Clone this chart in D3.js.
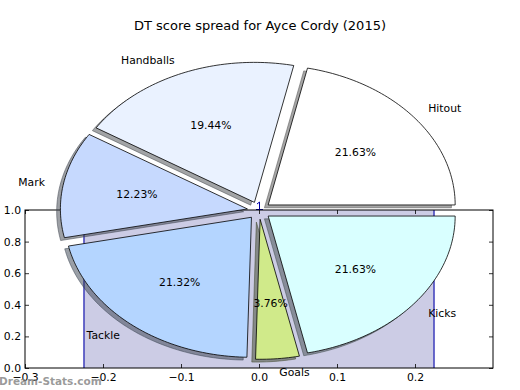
<!DOCTYPE html>
<html>
<head>
<meta charset="utf-8">
<script src="https://cdnjs.cloudflare.com/ajax/libs/d3/7.8.5/d3.min.js"></script>
<style>
body{margin:0;background:#fff;}
svg{display:block;font-family:"DejaVu Sans",sans-serif;}
</style>
</head>
<body>
<svg id="chart" width="520" height="390"></svg>
<script>
// pie data
const labels = ["Hitout","Handballs","Mark","Tackle","Goals","Kicks"];
const values = [21.63,19.44,12.23,21.32,3.76,21.63];
const colors = ["#ffffff","#eaf2ff","#c6d9fe","#b4d5ff","#d0ea8a","#d9ffff"];

// lower axes
const xTicks = [-0.3,-0.2,-0.1,0.0,0.1,0.2];
const yTicks = [0.0,0.2,0.4,0.6,0.8,1.0];
const fillX = [-0.2244,0.2244];
const fillY = [0,1];

const svg = d3.select("#chart");

// ---- the axes underneath ----
const margin = {left:25, right:28, top:210, bottom:22};
const W = 520, H = 390;
const x = d3.scaleLinear().domain([-0.3,0.3]).range([margin.left, W - margin.right + 1]);
const y = d3.scaleLinear().domain([0,1]).range([H - margin.bottom, margin.top]);

const ax = svg.append("g");
ax.append("rect")
    .attr("x", x(-0.3)).attr("y", y(1))
    .attr("width", x(0.3)-x(-0.3)).attr("height", y(0)-y(1))
    .attr("fill","#fff");

ax.append("rect")
    .attr("x", x(fillX[0])).attr("y", y(fillY[1]))
    .attr("width", x(fillX[1])-x(fillX[0])).attr("height", y(fillY[0])-y(fillY[1]))
    .attr("fill","#cccce5");
fillX.forEach(function(v){
    ax.append("line")
        .attr("x1", x(v)).attr("x2", x(v))
        .attr("y1", y(0)).attr("y2", y(1))
        .attr("stroke","#0000a8").attr("stroke-width",1.1);
});
// little blue mark sticking out at x = 0
ax.append("path")
    .attr("d", "M" + (x(0)-2) + "," + (y(1)-6) + "L" + (x(0)+0.5) + "," + (y(1)-8)
        + "L" + (x(0)+0.5) + "," + y(1) + "M" + (x(0)-3) + "," + (y(1)-0.5) + "L" + (x(0)+4) + "," + (y(1)-0.5))
    .attr("stroke","#0000a8").attr("fill","none").attr("stroke-width",1);

const fmt = d3.format(".1f");
function styleAxis(g, showText){
    g.select(".domain").remove();
    g.selectAll(".tick line").attr("stroke","#000").attr("stroke-width",0.8);
    g.selectAll(".tick text").attr("font-size","10.8px").attr("fill","#000")
        .attr("font-family","DejaVu Sans");
    if(!showText) g.selectAll(".tick text").remove();
}
svg.append("g").attr("transform","translate(0," + y(0) + ")")
    .call(d3.axisBottom(x).tickValues(xTicks).tickFormat(fmt).tickSize(-4).tickPadding(5))
    .call(styleAxis, true);
svg.append("g").attr("transform","translate(0," + y(1) + ")")
    .call(d3.axisTop(x).tickValues(xTicks).tickSize(-4))
    .call(styleAxis, false);
svg.append("g").attr("transform","translate(" + x(-0.3) + ",0)")
    .call(d3.axisLeft(y).tickValues(yTicks).tickFormat(fmt).tickSize(-4).tickPadding(4))
    .call(styleAxis, true);
svg.append("g").attr("transform","translate(" + x(0.3) + ",0)")
    .call(d3.axisRight(y).tickValues(yTicks).tickSize(-4))
    .call(styleAxis, false);

ax.append("rect")
    .attr("x", x(-0.3)).attr("y", y(1))
    .attr("width", x(0.3)-x(-0.3)).attr("height", y(0)-y(1))
    .attr("fill","none").attr("stroke","#000").attr("stroke-width",1);

// ---- the pie on top (stretched to figure aspect) ----
const cx = 259, cy = 210.5, rx = 187, ry = 140;
const px = d3.scaleLinear().domain([-1,1]).range([cx-rx, cx+rx]);
const py = d3.scaleLinear().domain([-1,1]).range([cy+ry, cy-ry]);
const explode = 0.063;
const shadowOff = 0.02;

// d3 angles: 0 at top, clockwise -> counter-clockwise from east like matplotlib
const arcs = d3.pie().sort(null).startAngle(Math.PI/2).endAngle(Math.PI/2 - 2*Math.PI)(values);

function wedgePoints(a, ox, oy){
    // convert to math angles
    const t0 = Math.PI/2 - a.startAngle, t1 = Math.PI/2 - a.endAngle;
    const n = Math.max(4, Math.ceil((t1-t0)/0.02));
    const pts = [[px(ox), py(oy)]];
    d3.range(n+1).forEach(function(i){
        const t = t0 + (t1-t0)*i/n;
        pts.push([px(ox + Math.cos(t)), py(oy + Math.sin(t))]);
    });
    return pts;
}
const line = d3.line().curve(d3.curveLinearClosed);

const pie = svg.append("g");
const data = arcs.map(function(a, i){
    const mid = Math.PI/2 - (a.startAngle + a.endAngle)/2;
    return {a:a, i:i, mid:mid, ox: explode*Math.cos(mid), oy: explode*Math.sin(mid)};
});

function shadeOf(d){
    const c = d3.rgb(colors[d.i]);
    return d3.rgb(c.r*0.3, c.g*0.3, c.b*0.3);
}
pie.selectAll("path.shadow").data(data).enter().append("path")
    .attr("class","shadow")
    .attr("d", d => line(wedgePoints(d.a, d.ox - shadowOff, d.oy - shadowOff)))
    .attr("fill", shadeOf)
    .attr("fill-opacity",0.5)
    .attr("stroke", shadeOf)
    .attr("stroke-opacity",0.5)
    .attr("stroke-width",1)
    .attr("stroke-linejoin","round");

pie.selectAll("path.wedge").data(data).enter().append("path")
    .attr("class","wedge")
    .attr("d", d => line(wedgePoints(d.a, d.ox, d.oy)))
    .attr("fill", d => colors[d.i])
    .attr("stroke","#000").attr("stroke-width",0.8)
    .attr("stroke-linejoin","round");

pie.selectAll("text.lbl").data(data).enter().append("text")
    .attr("class","lbl")
    .attr("x", d => px(d.ox + 1.1*Math.cos(d.mid)))
    .attr("y", d => py(d.oy + 1.1*Math.sin(d.mid)))
    .attr("dy","0.35em")
    .attr("text-anchor", d => Math.cos(d.mid) > 0 ? "start" : "end")
    .attr("font-size","10.8px")
    .text(d => labels[d.i]);

pie.selectAll("text.pct").data(data).enter().append("text")
    .attr("class","pct")
    .attr("x", d => px(d.ox + 0.6*Math.cos(d.mid)))
    .attr("y", d => py(d.oy + 0.6*Math.sin(d.mid)))
    .attr("dy","0.35em")
    .attr("text-anchor","middle")
    .attr("font-size","10.8px")
    .text(d => values[d.i].toFixed(2) + "%");

svg.append("text")
    .attr("x", 260).attr("y", 30)
    .attr("text-anchor","middle")
    .attr("font-size","13px")
    .text("DT score spread for Ayce Cordy (2015)");

// watermark
svg.append("text")
    .attr("x", -1).attr("y", 385)
    .attr("font-size","10.5px").attr("font-weight","bold")
    .attr("fill","#888").attr("fill-opacity",0.85)
    .text("Dream-Stats.com");
</script>
</body>
</html>
